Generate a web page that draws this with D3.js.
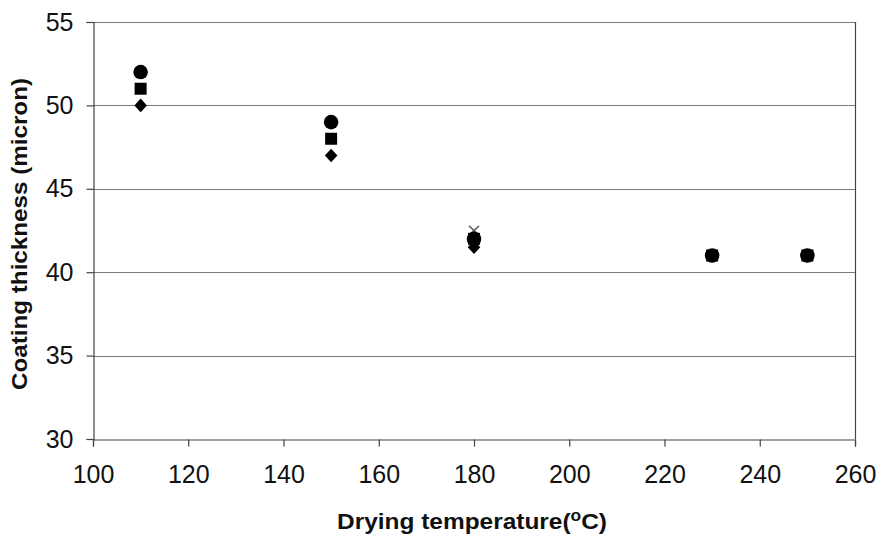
<!DOCTYPE html>
<html>
<head>
<meta charset="utf-8">
<script src="https://cdn.jsdelivr.net/npm/d3@7"></script>
<style>
  html, body { margin: 0; padding: 0; background: #fff; }
  svg { display: block; font-family: Arial, "Liberation Sans", sans-serif; }
</style>
</head>
<body>
<svg id="chart" width="877" height="535"></svg>
<script>
// ---- data ----
const temps = [110, 150, 180, 230, 250];
const diamondSeries = [50, 47, 41.5, 41, 41];
const squareSeries = [51, 48, 42, 41, 41];
const circleSeries = [52, 49, 42, 41, 41];
const crossTemps = [180];
const crossSeries = [42.5];
const xTicks = [100, 120, 140, 160, 180, 200, 220, 240, 260];
const yTicks = [30, 35, 40, 45, 50, 55];
const xTitle = "Drying temperature(";
const yTitle = "Coating thickness (micron)";

// ---- layout ----
const svg = d3.select("#chart");
const x = d3.scaleLinear().domain([100, 260]).range([93, 855]);
const y = d3.scaleLinear().domain([30, 55]).range([439, 22]);

const gridColor = "#7a7a7a";
const axisColor = "#444";

// gridlines
svg.append("g").selectAll("line").data(yTicks.filter(d => d > 30)).join("line")
  .attr("x1", x(100)).attr("x2", x(260))
  .attr("y1", d => Math.round(y(d)) + 0.5).attr("y2", d => Math.round(y(d)) + 0.5)
  .attr("stroke", gridColor).attr("stroke-width", 1.2);

// right border
svg.append("line")
  .attr("x1", Math.round(x(260)) + 0.5).attr("x2", Math.round(x(260)) + 0.5)
  .attr("y1", y(55)).attr("y2", y(30))
  .attr("stroke", axisColor).attr("stroke-width", 1.2);

// y axis
const yAxis = d3.axisLeft(y).tickValues(yTicks).tickSize(7).tickPadding(13).tickFormat(d3.format("d"));
const gy = svg.append("g").attr("transform", `translate(${Math.round(x(100)) + 0.5},0)`).call(yAxis);
gy.select(".domain").attr("stroke", axisColor).attr("stroke-width", 1.2);
gy.selectAll(".tick line").attr("stroke", axisColor).attr("stroke-width", 1.2);
gy.selectAll(".tick text").attr("font-size", 25).attr("fill", "#111")
  .attr("font-family", "Arial, 'Liberation Sans', sans-serif");

// x axis
const xAxis = d3.axisBottom(x).tickValues(xTicks).tickSize(7).tickPadding(19).tickFormat(d3.format("d"));
const gx = svg.append("g").attr("transform", `translate(0,${Math.round(y(30)) + 0.5})`).call(xAxis);
gx.select(".domain").attr("stroke", axisColor).attr("stroke-width", 1.2);
gx.selectAll(".tick line").attr("stroke", axisColor).attr("stroke-width", 1.2);
gx.selectAll(".tick text").attr("font-size", 25).attr("fill", "#111")
  .attr("font-family", "Arial, 'Liberation Sans', sans-serif");

// axis titles
const xt = svg.append("text")
  .attr("x", 472).attr("y", 529)
  .attr("text-anchor", "middle")
  .attr("font-size", 22.5).attr("font-weight", "bold").attr("fill", "#111")
  .attr("textLength", 270).attr("lengthAdjust", "spacingAndGlyphs");
xt.append("tspan").text(xTitle);
xt.append("tspan").attr("font-size", 16).attr("dy", -8).text("o");
xt.append("tspan").attr("dy", 8).text("C)");

svg.append("text")
  .attr("transform", "translate(27,234) rotate(-90)")
  .attr("text-anchor", "middle")
  .attr("font-size", 22).attr("font-weight", "bold").attr("fill", "#111")
  .attr("textLength", 312).attr("lengthAdjust", "spacingAndGlyphs")
  .text(yTitle);

// ---- markers ----
const pts = (vals, ts) => vals.map((v, i) => ({ t: ts[i], v }));

svg.append("g").selectAll("path").data(pts(diamondSeries, temps)).join("path")
  .attr("d", "M0,-6.8L6.3,0L0,6.8L-6.3,0Z")
  .attr("transform", d => `translate(${x(d.t)},${y(d.v)})`)
  .attr("fill", "#000");

svg.append("g").selectAll("rect").data(pts(squareSeries, temps)).join("rect")
  .attr("x", d => x(d.t) - 6).attr("y", d => y(d.v) - 6)
  .attr("width", 12).attr("height", 12)
  .attr("fill", "#000");

svg.append("g").selectAll("path").data(pts(crossSeries, crossTemps)).join("path")
  .attr("d", "M-5,-4.5L5,4.5M-5,4.5L5,-4.5")
  .attr("transform", d => `translate(${x(d.t)},${y(d.v)})`)
  .attr("stroke", "#555").attr("stroke-width", 1.6).attr("fill", "none");

svg.append("g").selectAll("circle").data(pts(circleSeries, temps)).join("circle")
  .attr("cx", d => x(d.t)).attr("cy", d => y(d.v))
  .attr("r", 7.3)
  .attr("fill", "#000");
</script>
</body>
</html>
